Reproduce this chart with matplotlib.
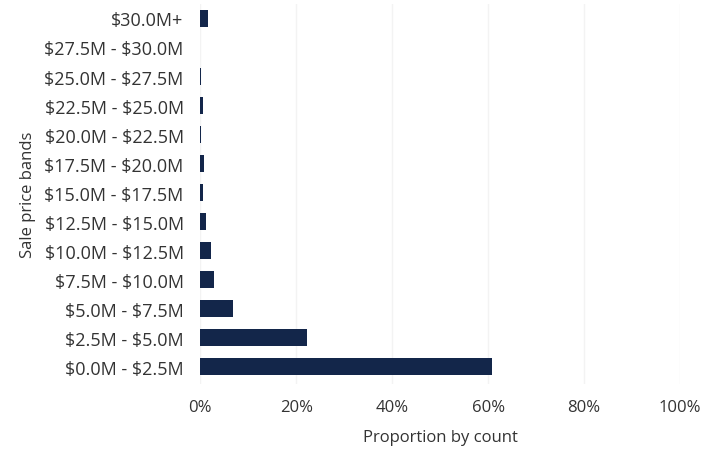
import matplotlib.pyplot as plt
from matplotlib.ticker import PercentFormatter

# === Data ===
bands = [
    "$0.0M - $2.5M", "$2.5M - $5.0M", "$5.0M - $7.5M", "$7.5M - $10.0M",
    "$10.0M - $12.5M", "$12.5M - $15.0M", "$15.0M - $17.5M", "$17.5M - $20.0M",
    "$20.0M - $22.5M", "$22.5M - $25.0M", "$25.0M - $27.5M", "$27.5M - $30.0M",
    "$30.0M+",
]
share = [60.8, 22.3, 6.9, 2.9, 2.2, 1.2, 0.6, 0.7, 0.2, 0.5, 0.2, 0.0, 1.6]

navy = "#13264a"

plt.rcParams['font.family'] = ['Open Sans', 'DejaVu Sans']
plt.rcParams['text.parse_math'] = False

fig = plt.figure(figsize=(7.18, 4.52), dpi=100)
ax = fig.add_axes([0.279, 0.148, 0.668, 0.841])

ax.barh(range(len(bands)), share, height=0.6, color=navy)

ax.set_xlim(0, 100)
ax.set_ylim(-0.6, 12.5)
ax.set_xticks([0, 20, 40, 60, 80, 100])
ax.xaxis.set_major_formatter(PercentFormatter(decimals=0))
ax.set_yticks(range(len(bands)))
ax.set_yticklabels(bands)

ax.grid(axis='x', color='#f3f3f3', linewidth=1)
ax.set_axisbelow(True)
for s in ax.spines.values():
    s.set_visible(False)
ax.tick_params(axis='x', length=0, pad=11, labelsize=12, labelcolor='#333333')
ax.tick_params(axis='y', length=0, pad=12, labelsize=13, labelcolor='#333333')

ax.set_xlabel('Proportion by count', fontsize=12, color='#333333', labelpad=10)
ax.set_ylabel('Sale price bands', fontsize=12, color='#333333', labelpad=6)

fig.savefig("out.png", dpi=100)
